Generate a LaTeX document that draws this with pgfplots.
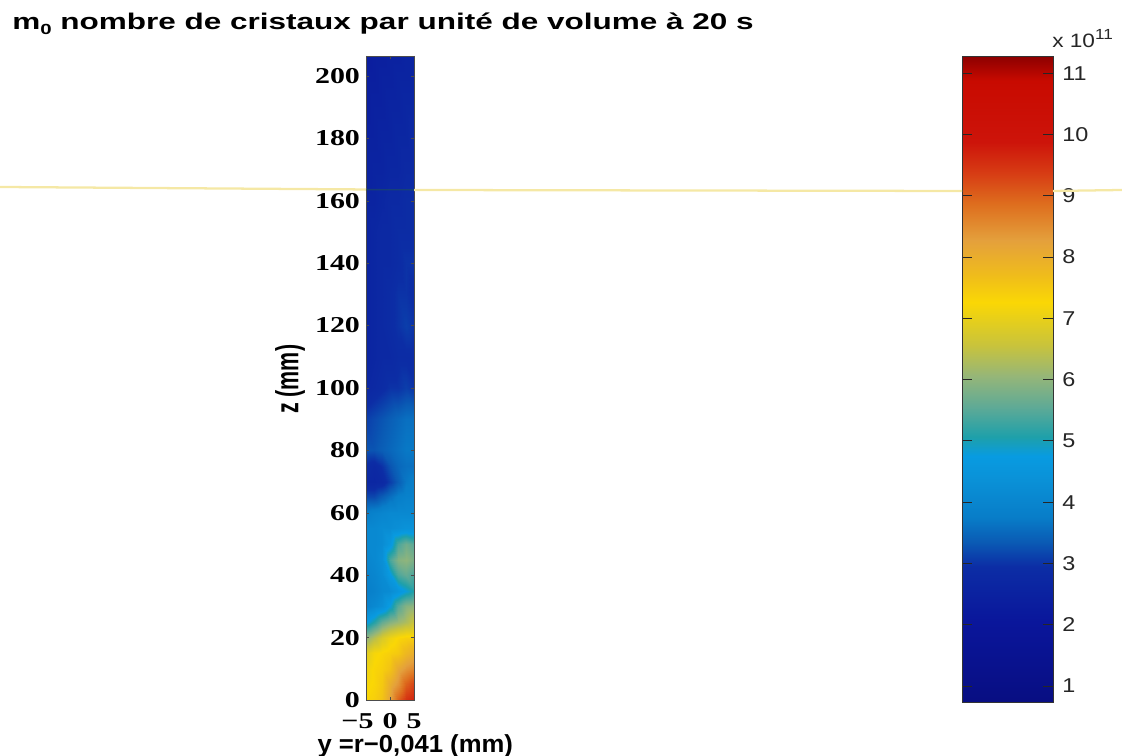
\documentclass[border=0pt]{standalone}
\usepackage{pgfplots}
\pgfplotsset{compat=1.18}
\usepackage{fontspec}
\setmainfont{Liberation Serif}
\setsansfont{Liberation Sans}
\newfontfamily\tickserif[FakeStretch=1.32]{Liberation Serif}
\newfontfamily\barsans[FakeStretch=1.17]{Liberation Sans}
\newfontfamily\titlesans[FakeStretch=1.39]{Liberation Sans}
\newfontfamily\xlabsans[FakeStretch=1.04]{Liberation Sans}
\newfontfamily\ylabsans[FakeStretch=0.67]{Liberation Sans}
\pgfplotsset{colormap={scan}{[1cm]
 rgb255(0cm)=(8,14,130) rgb255(13cm)=(10,22,155) rgb255(22cm)=(12,45,165) rgb255(26cm)=(10,90,180)
 rgb255(30cm)=(8,125,200) rgb255(36cm)=(10,145,215) rgb255(40cm)=(8,155,225) rgb255(43cm)=(30,160,170)
 rgb255(48cm)=(95,170,150) rgb255(53cm)=(150,182,120) rgb255(58cm)=(200,195,60) rgb255(65cm)=(250,215,5)
 rgb255(69cm)=(240,190,25) rgb255(75cm)=(228,160,60) rgb255(81cm)=(222,110,30) rgb255(86cm)=(215,60,20)
 rgb255(91cm)=(205,20,10) rgb255(101cm)=(200,10,0) rgb255(105cm)=(140,0,0)
}}
\definecolor{scanline}{RGB}{245,232,165}
\begin{document}
\begin{tikzpicture}[x=1pt,y=1pt]
\useasboundingbox (0,0) rectangle (841.5,567);
\begin{axis}[
  at={(274.5pt,42pt)}, anchor=south west, scale only axis, width=36pt, height=483pt,
  xmin=-5, xmax=5, ymin=0, ymax=206.4,
  xtick={-5,0,5}, ytick={0,20,...,200},
  xticklabels={\llap{−}5,0,5},
  tick align=inside, tick style={black!70,line width=0.4pt}, major tick length=2pt,
  tick label style={font=\tickserif\bfseries\fontsize{17}{17}\selectfont},
  /pgf/number format/assume math mode=true,
  xticklabel style={yshift=-6.5pt},
  yticklabel style={xshift=-1pt},
  axis line style={black!70,line width=0.6pt},
  point meta min=0.74, point meta max=11.28,
  colormap name=scan,
  axis on top,
]
\addplot[surf, shader=interp, mesh/cols=7, point meta=\thisrow{c}] table[row sep=\\, x=x, y=z] {
x z c\\
-5 0 7.3\\ -3.33 0 7.4\\ -1.67 0 7.6\\ 0 0 8.2\\ 1.67 0 9.0\\ 3.33 0 9.5\\ 5 0 9.7\\
-5 5 7.2\\ -3.33 5 7.3\\ -1.67 5 7.5\\ 0 5 8.0\\ 1.67 5 8.4\\ 3.33 5 9.0\\ 5 5 9.3\\
-5 10 7.1\\ -3.33 10 7.3\\ -1.67 10 7.4\\ 0 10 7.6\\ 1.67 10 8.1\\ 3.33 10 8.4\\ 5 10 8.6\\
-5 15 6.9\\ -3.33 15 7.2\\ -1.67 15 7.3\\ 0 15 7.4\\ 1.67 15 7.5\\ 3.33 15 7.8\\ 5 15 8.0\\
-5 20 6.0\\ -3.33 20 6.4\\ -1.67 20 6.8\\ 0 20 7.1\\ 1.67 20 7.3\\ 3.33 20 7.4\\ 5 20 7.4\\
-5 25 4.7\\ -3.33 25 5.1\\ -1.67 25 5.6\\ 0 25 5.9\\ 1.67 25 6.1\\ 3.33 25 6.3\\ 5 25 6.6\\
-5 30 3.9\\ -3.33 30 4.1\\ -1.67 30 4.3\\ 0 30 4.8\\ 1.67 30 5.5\\ 3.33 30 5.9\\ 5 30 6.0\\
-5 35 3.8\\ -3.33 35 3.9\\ -1.67 35 4.1\\ 0 35 4.2\\ 1.67 35 4.5\\ 3.33 35 4.8\\ 5 35 5.1\\
-5 40 3.9\\ -3.33 40 4.0\\ -1.67 40 4.2\\ 0 40 4.7\\ 1.67 40 5.4\\ 3.33 40 5.6\\ 5 40 5.4\\
-5 45 4.0\\ -3.33 45 4.1\\ -1.67 45 4.3\\ 0 45 5.4\\ 1.67 45 5.9\\ 3.33 45 6.0\\ 5 45 5.8\\
-5 50 4.1\\ -3.33 50 4.1\\ -1.67 50 4.2\\ 0 50 4.6\\ 1.67 50 5.4\\ 3.33 50 5.7\\ 5 50 5.5\\
-5 55 4.1\\ -3.33 55 4.1\\ -1.67 55 4.2\\ 0 55 4.2\\ 1.67 55 4.3\\ 3.33 55 4.4\\ 5 55 4.4\\
-5 60 3.8\\ -3.33 60 3.9\\ -1.67 60 4.0\\ 0 60 4.1\\ 1.67 60 4.1\\ 3.33 60 4.1\\ 5 60 4.1\\
-5 65 3.2\\ -3.33 65 3.2\\ -1.67 65 3.4\\ 0 65 3.6\\ 1.67 65 3.8\\ 3.33 65 3.9\\ 5 65 3.9\\
-5 70 2.7\\ -3.33 70 2.7\\ -1.67 70 2.8\\ 0 70 3.1\\ 1.67 70 3.4\\ 3.33 70 3.7\\ 5 70 3.8\\
-5 75 2.9\\ -3.33 75 2.8\\ -1.67 75 3.0\\ 0 75 3.3\\ 1.67 75 3.5\\ 3.33 75 3.6\\ 5 75 3.6\\
-5 80 3.3\\ -3.33 80 3.3\\ -1.67 80 3.4\\ 0 80 3.5\\ 1.67 80 3.6\\ 3.33 80 3.7\\ 5 80 3.7\\
-5 90 3.1\\ -3.33 90 3.2\\ -1.67 90 3.3\\ 0 90 3.4\\ 1.67 90 3.5\\ 3.33 90 3.6\\ 5 90 3.6\\
-5 100 2.7\\ -3.33 100 2.8\\ -1.67 100 2.9\\ 0 100 3.0\\ 1.67 100 3.0\\ 3.33 100 3.1\\ 5 100 3.0\\
-5 110 2.6\\ -3.33 110 2.7\\ -1.67 110 2.8\\ 0 110 2.8\\ 1.67 110 2.9\\ 3.33 110 2.9\\ 5 110 2.9\\
-5 120 2.6\\ -3.33 120 2.7\\ -1.67 120 2.8\\ 0 120 2.9\\ 1.67 120 3.0\\ 3.33 120 3.1\\ 5 120 3.0\\
-5 130 2.6\\ -3.33 130 2.7\\ -1.67 130 2.8\\ 0 130 2.9\\ 1.67 130 3.0\\ 3.33 130 3.0\\ 5 130 2.9\\
-5 140 2.6\\ -3.33 140 2.7\\ -1.67 140 2.8\\ 0 140 2.8\\ 1.67 140 2.9\\ 3.33 140 3.0\\ 5 140 3.0\\
-5 150 2.6\\ -3.33 150 2.7\\ -1.67 150 2.8\\ 0 150 2.8\\ 1.67 150 2.9\\ 3.33 150 2.9\\ 5 150 2.9\\
-5 160 2.6\\ -3.33 160 2.6\\ -1.67 160 2.7\\ 0 160 2.8\\ 1.67 160 2.8\\ 3.33 160 2.9\\ 5 160 2.9\\
-5 170 2.5\\ -3.33 170 2.6\\ -1.67 170 2.6\\ 0 170 2.7\\ 1.67 170 2.7\\ 3.33 170 2.8\\ 5 170 2.8\\
-5 180 2.5\\ -3.33 180 2.5\\ -1.67 180 2.6\\ 0 180 2.6\\ 1.67 180 2.7\\ 3.33 180 2.7\\ 5 180 2.8\\
-5 190 2.4\\ -3.33 190 2.5\\ -1.67 190 2.5\\ 0 190 2.6\\ 1.67 190 2.6\\ 3.33 190 2.7\\ 5 190 2.7\\
-5 200 2.4\\ -3.33 200 2.4\\ -1.67 200 2.5\\ 0 200 2.5\\ 1.67 200 2.6\\ 3.33 200 2.6\\ 5 200 2.6\\
-5 206.4 2.3\\ -3.33 206.4 2.4\\ -1.67 206.4 2.4\\ 0 206.4 2.5\\ 1.67 206.4 2.5\\ 3.33 206.4 2.6\\ 5 206.4 2.6\\
};
\end{axis}
\begin{axis}[
  at={(721.5pt,40.5pt)}, anchor=south west, scale only axis, width=68.25pt, height=484.5pt,
  xmin=0, xmax=1, ymin=0.74, ymax=11.28,
  xtick=\empty, ytick={1,...,11},
  ytick pos=both, yticklabel pos=right,
  tick align=inside, tick style={black!85,line width=0.6pt}, major tick length=7.5pt,
  tick label style={font=\barsans\fontsize{15}{15}\selectfont, text=black!85},
  /pgf/number format/assume math mode=true,
  yticklabel style={xshift=3.5pt},
  axis line style={black!80,line width=0.7pt},
  point meta min=0.74, point meta max=11.28,
  colormap name=scan,
  axis on top,
]
\addplot[surf, shader=interp, mesh/cols=2, point meta=y] table[row sep=\\] {
x y\\
0 0.74\\ 1 0.74\\ 0 2.04\\ 1 2.04\\ 0 2.94\\ 1 2.94\\ 0 3.34\\ 1 3.34\\ 0 3.74\\ 1 3.74\\ 0 4.34\\ 1 4.34\\
0 4.74\\ 1 4.74\\ 0 5.04\\ 1 5.04\\ 0 5.54\\ 1 5.54\\ 0 6.04\\ 1 6.04\\ 0 6.54\\ 1 6.54\\ 0 7.24\\ 1 7.24\\
0 7.64\\ 1 7.64\\ 0 8.24\\ 1 8.24\\ 0 8.84\\ 1 8.84\\ 0 9.34\\ 1 9.34\\ 0 9.84\\ 1 9.84\\ 0 10.84\\ 1 10.84\\
0 11.28\\ 1 11.28\\
};
\end{axis}
\draw[scanline, line width=1.7pt] (0,426.75) -- (274.5,424.9);
\draw[scanline, line width=1.7pt] (310.5,424.5) -- (721.5,423.75);
\draw[scanline, line width=1.7pt] (789.75,423.75) -- (841.5,424.5);
\draw[color={rgb,255:red,30;green,80;blue,90}, line width=1pt, opacity=0.6] (274.5,424.8) -- (310.5,424.6);
\node[anchor=base west, inner sep=0pt, font=\titlesans\bfseries\fontsize{17}{17}\selectfont] at (9,544.5) {m\raisebox{-3.5pt}{\fontsize{11}{11}\selectfont 0} nombre de cristaux par unité de volume à 20 s};
\node[anchor=base west, inner sep=0pt, font=\xlabsans\bfseries\fontsize{18.5}{18.5}\selectfont] at (238,2.25) {y =r−0,041 (mm)};
\node[rotate=90, font=\ylabsans\bfseries\fontsize{24}{24}\selectfont] at (217.5,282.5) {z (mm)};
\node[anchor=base west, inner sep=0pt, font=\barsans\fontsize{14.5}{14.5}\selectfont, text=black!85] at (789,531) {x 10\raisebox{6.5pt}{\fontsize{11}{11}\selectfont 11}};
\end{tikzpicture}
\end{document}
